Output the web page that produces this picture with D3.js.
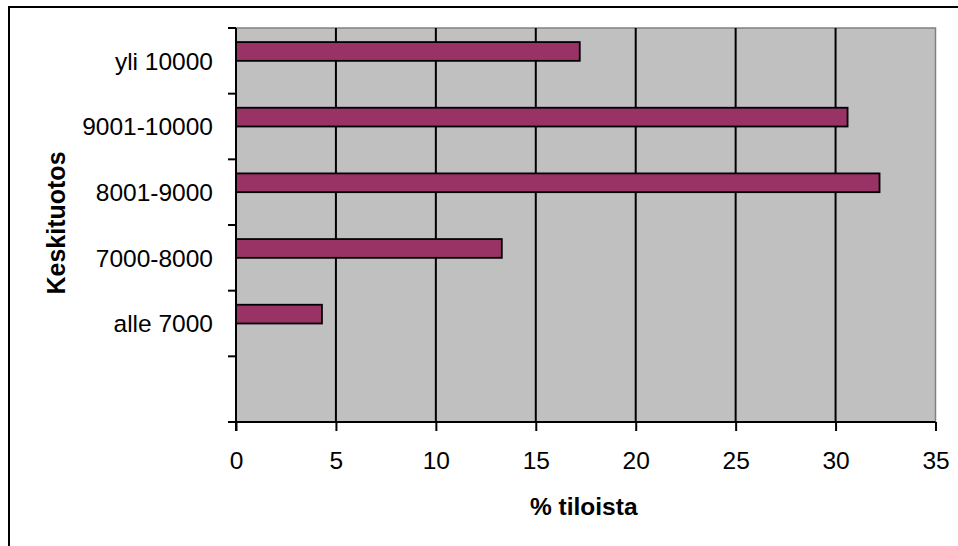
<!DOCTYPE html>
<html>
<head>
<meta charset="utf-8">
<script src="https://cdn.jsdelivr.net/npm/d3@7"></script>
<style>
  html, body { margin: 0; padding: 0; background: #fff; }
  svg { display: block; }
  text { font-family: Arial, "Liberation Sans", sans-serif; fill: #000; }
</style>
</head>
<body>
<svg id="chart" width="958" height="546"></svg>
<script>
// Data (bottom to top), last empty slot at bottom
const categories = ["", "alle 7000", "7000-8000", "8001-9000", "9001-10000", "yli 10000"];
const values = [null, 4.3, 13.3, 32.2, 30.6, 17.2];
const xTicks = [0, 5, 10, 15, 20, 25, 30, 35];
const xTitle = "% tiloista";
const yTitle = "Keskituotos";

const svg = d3.select("#chart");
const pLeft = 236, pRight = 935.5, pTop = 28, pBottom = 422;

// outer frame
svg.append("rect")
  .attr("x", 9).attr("y", 7).attr("width", 980).attr("height", 580)
  .attr("fill", "#fff").attr("stroke", "#000").attr("stroke-width", 2);

const x = d3.scaleLinear().domain([0, 35]).range([pLeft, pRight]);
const y = d3.scaleBand().domain(categories).range([pBottom, pTop]).padding(0);

// plot area
svg.append("rect")
  .attr("x", pLeft).attr("y", pTop).attr("width", pRight - pLeft).attr("height", pBottom - pTop)
  .attr("fill", "#c0c0c0").attr("stroke", "#808080").attr("stroke-width", 1.5);

// gridlines
svg.append("g").selectAll("line").data(xTicks.filter(t => t > 0 && t < 35)).join("line")
  .attr("x1", d => x(d)).attr("x2", d => x(d))
  .attr("y1", pTop).attr("y2", pBottom)
  .attr("stroke", "#000").attr("stroke-width", 2);

// bars
const bw = y.bandwidth();
svg.append("g").selectAll("rect").data(categories.map((c, i) => ({c, v: values[i]})).filter(d => d.v != null))
  .join("rect")
  .attr("x", x(0))
  .attr("y", d => y(d.c) + bw * 0.75 / 3.5)
  .attr("width", d => x(d.v) - x(0))
  .attr("height", bw / 3.5)
  .attr("fill", "#993366")
  .attr("stroke", "#000").attr("stroke-width", 1.8);

// x axis
const xAxis = d3.axisBottom(x).tickValues(xTicks).tickSize(9).tickPadding(10).tickFormat(d3.format("d"));
const gx = svg.append("g").attr("transform", `translate(0,${pBottom})`).call(xAxis);
gx.select(".domain").attr("stroke", "#000").attr("stroke-width", 2).attr("d", `M${pLeft},0H${pRight}`);
gx.selectAll(".tick line").attr("stroke", "#000").attr("stroke-width", 2);
gx.selectAll(".tick text").attr("font-size", 24.5).attr("font-family", "Arial, 'Liberation Sans', sans-serif")
  .attr("fill", "#000").attr("dy", null).attr("y", 47);

// y axis (ticks at band boundaries)
svg.append("line").attr("x1", pLeft).attr("x2", pLeft).attr("y1", pTop).attr("y2", pBottom + 9)
  .attr("stroke", "#000").attr("stroke-width", 2);
const boundaries = categories.map(c => y(c)).concat([pBottom]);
svg.append("g").selectAll("line").data(boundaries).join("line")
  .attr("x1", pLeft - 8).attr("x2", pLeft).attr("y1", d => d).attr("y2", d => d)
  .attr("stroke", "#000").attr("stroke-width", 2);
svg.append("g").selectAll("text").data(categories).join("text")
  .attr("x", 213).attr("y", d => y(d) + bw / 2 + 8.8)
  .attr("text-anchor", "end").attr("font-size", 24.5)
  .text(d => d);

// titles
svg.append("text").attr("x", (pLeft + pRight) / 2 - 2).attr("y", 515)
  .attr("text-anchor", "middle").attr("font-size", 24.5).attr("font-weight", "bold")
  .text(xTitle);
svg.append("text").attr("transform", `translate(65,${(pTop + pBottom) / 2 - 2}) rotate(-90)`)
  .attr("text-anchor", "middle").attr("font-size", 25).attr("font-weight", "bold")
  .text(yTitle);
</script>
</body>
</html>
